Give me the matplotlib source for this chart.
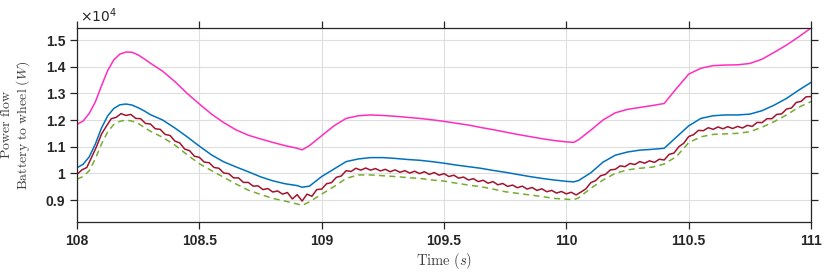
import numpy as np
import matplotlib
matplotlib.use("Agg")
from matplotlib import pyplot as plt
from matplotlib.ticker import FuncFormatter, MultipleLocator

# tempo (s) comum para as curvas suaves
tempo = [108.000, 108.025, 108.050, 108.075, 108.100, 108.125, 108.150, 108.175, 108.200, 108.225,
         108.250, 108.275, 108.30, 108.35, 108.40, 108.45,
         108.50, 108.55, 108.60, 108.65, 108.70, 108.75, 108.80, 108.85, 108.90, 108.92,
         108.95, 109.00, 109.05, 109.10, 109.15, 109.20, 109.25, 109.30, 109.35, 109.40,
         109.45, 109.50, 109.55, 109.60, 109.65, 109.70, 109.75, 109.80, 109.85, 109.90,
         109.95, 110.00, 110.03, 110.05, 110.10, 110.15, 110.20, 110.25, 110.30, 110.35,
         110.40, 110.45, 110.50, 110.55, 110.60, 110.65, 110.70, 110.75, 110.80, 110.85,
         110.90, 110.95, 111.00]

# valores em 10^4 W
magenta = [1.184, 1.196, 1.225, 1.268, 1.328, 1.385, 1.425, 1.447, 1.455, 1.454,
           1.444, 1.429, 1.413, 1.383, 1.344, 1.300,
           1.260, 1.222, 1.190, 1.163, 1.143, 1.129, 1.116, 1.104, 1.094, 1.088,
           1.104, 1.141, 1.178, 1.206, 1.216, 1.219, 1.217, 1.214, 1.210, 1.206,
           1.201, 1.195, 1.188, 1.181, 1.172, 1.164, 1.155, 1.146, 1.138, 1.130,
           1.123, 1.118, 1.116, 1.126, 1.162, 1.200, 1.227, 1.240, 1.247, 1.254,
           1.262, 1.318, 1.372, 1.394, 1.404, 1.406, 1.407, 1.412, 1.428, 1.454,
           1.481, 1.512, 1.545]

azul = [1.021, 1.034, 1.062, 1.110, 1.170, 1.215, 1.243, 1.257, 1.260, 1.256,
        1.246, 1.234, 1.220, 1.200, 1.170, 1.137,
        1.102, 1.069, 1.043, 1.024, 1.006, 0.987, 0.972, 0.961, 0.954, 0.948,
        0.952, 0.988, 1.016, 1.044, 1.054, 1.059, 1.059, 1.056, 1.052, 1.049,
        1.044, 1.038, 1.031, 1.025, 1.019, 1.011, 1.004, 0.996, 0.988, 0.981,
        0.975, 0.970, 0.968, 0.973, 1.002, 1.042, 1.068, 1.080, 1.087, 1.090,
        1.094, 1.136, 1.178, 1.206, 1.216, 1.219, 1.219, 1.222, 1.235, 1.256,
        1.281, 1.312, 1.341]

verde = [0.978, 0.988, 1.010, 1.055, 1.110, 1.155, 1.183, 1.195, 1.200, 1.196,
         1.187, 1.172, 1.158, 1.135, 1.106, 1.070,
         1.036, 1.010, 0.985, 0.960, 0.937, 0.921, 0.906, 0.896, 0.885, 0.880,
         0.893, 0.922, 0.950, 0.981, 0.994, 0.994, 0.991, 0.988, 0.984, 0.981,
         0.975, 0.971, 0.963, 0.956, 0.950, 0.941, 0.931, 0.925, 0.919, 0.913,
         0.906, 0.903, 0.901, 0.908, 0.944, 0.975, 1.000, 1.013, 1.019, 1.023,
         1.035, 1.063, 1.115, 1.137, 1.146, 1.148, 1.150, 1.156, 1.173, 1.194,
         1.219, 1.248, 1.269]

# curva vermelha, amostrada a cada 0.02 s (tem ondulacao)
tempo_verm = np.linspace(108, 111, 151)
vermelho = [0.996, 1.013, 1.022, 1.061, 1.101, 1.147, 1.177, 1.205, 1.210, 1.224,
            1.217, 1.221, 1.206, 1.205, 1.187, 1.185, 1.167, 1.165, 1.146, 1.142,
            1.121, 1.114, 1.091, 1.085, 1.064, 1.060, 1.042, 1.040, 1.022, 1.019,
            1.001, 0.999, 0.983, 0.983, 0.966, 0.966, 0.952, 0.953, 0.939, 0.943,
            0.930, 0.934, 0.922, 0.928, 0.904, 0.920, 0.896, 0.922, 0.914, 0.939,
            0.941, 0.961, 0.965, 0.985, 0.990, 1.010, 1.007, 1.019, 1.012, 1.020,
            1.012, 1.018, 1.009, 1.015, 1.006, 1.013, 1.004, 1.010, 1.001, 1.008,
            0.999, 1.006, 0.996, 1.003, 0.993, 0.999, 0.988, 0.993, 0.982, 0.986,
            0.975, 0.980, 0.969, 0.974, 0.963, 0.969, 0.957, 0.962, 0.951, 0.956,
            0.946, 0.952, 0.941, 0.947, 0.936, 0.942, 0.931, 0.936, 0.926, 0.932,
            0.923, 0.929, 0.919, 0.930, 0.942, 0.965, 0.973, 0.991, 0.996, 1.013,
            1.015, 1.028, 1.025, 1.037, 1.033, 1.044, 1.038, 1.047, 1.041, 1.053,
            1.050, 1.071, 1.076, 1.100, 1.113, 1.138, 1.145, 1.161, 1.160, 1.171,
            1.165, 1.174, 1.167, 1.175, 1.168, 1.176, 1.170, 1.180, 1.176, 1.191,
            1.190, 1.205, 1.205, 1.221, 1.223, 1.241, 1.245, 1.266, 1.270, 1.287,
            1.288]

escala = 1e4

plt.rcParams['font.family'] = ['Liberation Sans', 'DejaVu Sans']

fig = plt.figure(figsize=(8.3, 2.79), dpi=100)
ax = fig.add_axes([0.0928, 0.2043, 0.8843, 0.6953])

ax.plot(tempo, np.array(magenta) * escala, color='#FF2DBE', lw=1.1)
ax.plot(tempo, np.array(azul) * escala, color='#0072BD', lw=1.1)
ax.plot(tempo_verm, np.array(vermelho) * escala, color='#A2142F', lw=1.1)
ax.plot(tempo, np.array(verde) * escala, color='#77AC30', lw=1.1,
        linestyle=(0, (4, 2.8)))

ax.set_xlim(108, 111)
ax.set_ylim(8175, 15450)
ax.xaxis.set_major_locator(MultipleLocator(0.5))
ax.yaxis.set_major_locator(MultipleLocator(1000))
ax.xaxis.set_major_formatter(FuncFormatter(lambda v, _: f'{v:g}'))
ax.yaxis.set_major_formatter(FuncFormatter(lambda v, _: f'{v / escala:g}'))

ax.grid(True, color='#DEDEDE', lw=0.8)
ax.set_axisbelow(True)
for lado in ax.spines.values():
    lado.set_color('#262626')
    lado.set_linewidth(0.9)
ax.tick_params(direction='out', length=5, width=0.9, color='#262626',
               top=True, right=True, labelsize=10, labelcolor='#262626')
for rotulo in ax.get_xticklabels() + ax.get_yticklabels():
    rotulo.set_fontweight('bold')

ax.text(0.004, 1.015, r'$\times10^{4}$', transform=ax.transAxes, fontsize=10,
        color='#262626', ha='left', va='bottom', math_fontfamily='dejavusans')

ax.set_xlabel(r'$\mathrm{Time\ (}s\mathrm{)}$', fontsize=10.5, color='#404040',
              math_fontfamily='cm', labelpad=2)
ax.set_ylabel(r'$\mathrm{Power\ flow}$' + '\n' + r'$\mathrm{Battery\ to\ wheel\ (}W\mathrm{)}$',
              fontsize=10, color='#404040', math_fontfamily='cm', linespacing=1.15)
ax.yaxis.set_label_coords(-0.061, 0.5)

fig.savefig('out.png', dpi=100)
